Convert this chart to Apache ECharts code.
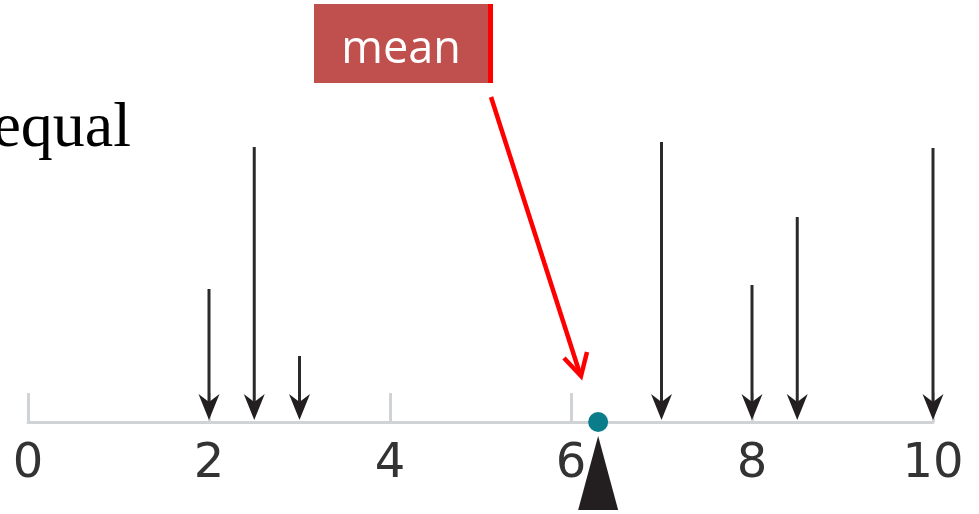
<!DOCTYPE html>
<html>
<head>
<meta charset="utf-8">
<script src="https://cdn.jsdelivr.net/npm/echarts@6/dist/echarts.min.js"></script>
<style>
  html, body { margin: 0; padding: 0; background: #fff; }
  #chart { width: 979px; height: 514px; }
</style>
</head>
<body>
<div id="chart"></div>
<script>
// positions of the weights on the beam, and how long each arrow is (weight)
const positions = [2, 2.5, 3, 7, 8, 8.5, 10];
const weights = [133, 275, 66, 280, 137, 205, 274];
const tickLabels = [0, 2, 4, 6, 8, 10];
const meanValue = 6.3;

const chart = echarts.init(document.getElementById("chart"));

const arrowData = positions.map((p, i) => [p, weights[i]]);

chart.setOption({
  animation: false,
  grid: { left: 28, right: 46, top: 22, bottom: 92, containLabel: false },
  xAxis: {
    type: "value",
    min: 0,
    max: 10,
    interval: 2,
    splitLine: { show: false },
    axisLine: { show: true, lineStyle: { color: "#cfd3d6", width: 3 } },
    axisTick: { show: true, inside: true, length: 29, lineStyle: { color: "#cfd3d6", width: 3 } },
    axisLabel: {
      fontSize: 48,
      fontFamily: "DejaVu Sans",
      color: "#333",
      margin: 19,
      formatter: (v) => (tickLabels.includes(v) ? String(v) : ""),
    },
  },
  yAxis: { type: "value", min: 0, max: 400, show: false },
  series: [
    {
      type: "custom",
      clip: false,
      data: arrowData,
      renderItem(params, api) {
        const top = api.coord([api.value(0), api.value(1)]);
        const tip = api.coord([api.value(0), 0]);
        const x = top[0];
        const tipY = tip[1] - 2;
        return {
          type: "group",
          children: [
            {
              type: "line",
              shape: { x1: x, y1: top[1], x2: x, y2: tipY - 16 },
              style: { stroke: "#2b2a2b", lineWidth: 3 },
            },
            {
              type: "polygon",
              shape: {
                points: [
                  [x, tipY],
                  [x - 10.5, tipY - 26],
                  [x, tipY - 18],
                  [x + 10.5, tipY - 26],
                ],
              },
              style: { fill: "#231f20" },
            },
          ],
        };
      },
    },
    {
      type: "custom",
      clip: false,
      data: [[meanValue, 0]],
      renderItem(params, api) {
        const p = api.coord([api.value(0), 0]);
        return {
          type: "polygon",
          shape: {
            points: [
              [p[0], p[1] + 14],
              [p[0] - 20, p[1] + 88],
              [p[0] + 20, p[1] + 88],
            ],
          },
          style: { fill: "#231f20" },
        };
      },
    },
    {
      type: "scatter",
      data: [[meanValue, 0]],
      symbolSize: 20,
      itemStyle: { color: "#0b7d8a", opacity: 1 },
      z: 5,
    },
  ],
  graphic: [
    {
      type: "text",
      right: 979 - 131,
      top: 97,
      style: {
        text: "equal",
        font: "64px 'Liberation Serif'",
        fill: "#000",
      },
    },
    {
      type: "rect",
      shape: { x: 314, y: 4, width: 176, height: 79 },
      style: { fill: "#c0504d" },
    },
    {
      type: "rect",
      shape: { x: 488, y: 4, width: 5, height: 79 },
      style: { fill: "#ff0000" },
    },
    {
      type: "text",
      x: 401,
      y: 50,
      style: {
        text: "mean",
        font: "45px 'Open Sans'",
        fill: "#fff",
        align: "center",
        verticalAlign: "middle",
      },
    },
    {
      type: "line",
      shape: { x1: 491, y1: 97, x2: 580, y2: 374 },
      style: { stroke: "#ff0000", lineWidth: 4.5 },
    },
    {
      type: "polyline",
      shape: { points: [[564, 358], [581, 376], [587, 352]] },
      style: { stroke: "#ff0000", lineWidth: 4.5, lineJoin: "miter" },
    },
  ],
});
</script>
</body>
</html>
